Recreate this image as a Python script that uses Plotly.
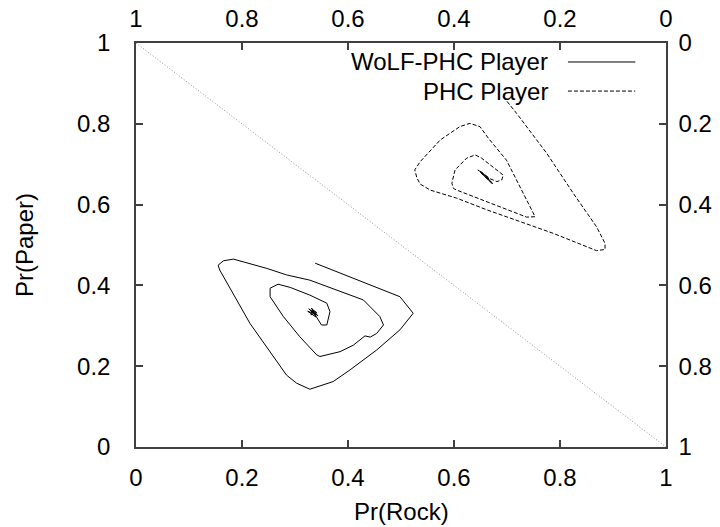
import plotly.graph_objects as go

# WoLF-PHC player trajectory (Pr(Rock), Pr(Paper))
wolf_x = [0.338, 0.498, 0.523, 0.498, 0.454, 0.404, 0.372, 0.341, 0.328, 0.303, 0.284,
          0.215, 0.158, 0.155, 0.165, 0.184, 0.247, 0.284, 0.328, 0.429, 0.460, 0.467,
          0.454, 0.442, 0.432, 0.410, 0.385, 0.347, 0.341, 0.309, 0.278, 0.253, 0.253,
          0.268, 0.291, 0.328, 0.360, 0.366, 0.360, 0.350, 0.338, 0.332,
          0.326, 0.340, 0.329, 0.343, 0.331, 0.337, 0.324, 0.339, 0.333, 0.341, 0.330, 0.335]
wolf_y = [0.455, 0.372, 0.331, 0.290, 0.240, 0.191, 0.162, 0.149, 0.143, 0.158, 0.178,
          0.306, 0.438, 0.450, 0.461, 0.465, 0.442, 0.426, 0.413, 0.364, 0.323, 0.302,
          0.281, 0.272, 0.275, 0.252, 0.236, 0.224, 0.228, 0.273, 0.323, 0.372, 0.393,
          0.403, 0.395, 0.376, 0.356, 0.335, 0.302, 0.302, 0.327, 0.335,
          0.342, 0.328, 0.338, 0.325, 0.344, 0.330, 0.336, 0.322, 0.340, 0.333, 0.327, 0.337]

# PHC player trajectory
phc_x = [0.693, 0.718, 0.756, 0.775, 0.825, 0.869, 0.885, 0.885, 0.869, 0.787, 0.662,
         0.605, 0.555, 0.536, 0.530, 0.526, 0.536, 0.574, 0.611, 0.630, 0.649, 0.665,
         0.699, 0.725, 0.750, 0.753, 0.737, 0.671, 0.605, 0.599, 0.596, 0.602, 0.624,
         0.640, 0.652, 0.693, 0.690, 0.681,
         0.668, 0.648, 0.660, 0.672, 0.645, 0.663, 0.674, 0.655, 0.666, 0.650, 0.670, 0.662]
phc_y = [0.867, 0.826, 0.760, 0.727, 0.628, 0.545, 0.504, 0.489, 0.486, 0.529, 0.587,
         0.616, 0.636, 0.651, 0.666, 0.686, 0.706, 0.760, 0.793, 0.801, 0.793, 0.764,
         0.710, 0.644, 0.578, 0.570, 0.569, 0.602, 0.636, 0.640, 0.653, 0.686, 0.715,
         0.723, 0.715, 0.673, 0.661, 0.657,
         0.664, 0.684, 0.672, 0.652, 0.686, 0.668, 0.650, 0.676, 0.660, 0.680, 0.655, 0.667]

# Simplex boundary Pr(Rock) + Pr(Paper) = 1
diag_x = [0, 1]
diag_y = [1, 0]

tick_vals = [0, 0.2, 0.4, 0.6, 0.8, 1]
tick_text = ["0", "0.2", "0.4", "0.6", "0.8", "1"]

legend_names = ["WoLF-PHC Player", "PHC Player"]
axis_titles = ["Pr(Rock)", "Pr(Paper)"]

FONT = "Liberation Sans, Arial, Helvetica, sans-serif"
FS = 24
AX = "#404040"

fig = go.Figure()
fig.add_trace(go.Scatter(x=diag_x, y=diag_y, mode="lines",
                         line=dict(color="#909090", width=1, dash="1px,2px"),
                         showlegend=False, hoverinfo="skip"))
fig.add_trace(go.Scatter(x=wolf_x, y=wolf_y, mode="lines", name=legend_names[0],
                         line=dict(color="black", width=1), showlegend=False))
fig.add_trace(go.Scatter(x=phc_x, y=phc_y, mode="lines", name=legend_names[1],
                         line=dict(color="black", width=1, dash="4px,2px"), showlegend=False))
# carrier trace for the secondary (top / right) axes
fig.add_trace(go.Scatter(x=diag_x, y=diag_y, xaxis="x2", yaxis="y2", mode="markers",
                         marker=dict(opacity=0), showlegend=False, hoverinfo="skip"))

axis_common = dict(showgrid=False, zeroline=False, showline=True, linecolor=AX, linewidth=1.5,
                   ticks="inside", ticklen=7, tickwidth=1.5, tickcolor=AX, automargin=False,
                   tickvals=tick_vals, ticktext=tick_text,
                   tickfont=dict(family=FONT, size=FS, color="black"))

fig.update_layout(
    width=720, height=527,
    margin=dict(l=136, r=54, t=43, b=80),
    plot_bgcolor="white", paper_bgcolor="white",
    font=dict(family=FONT, size=FS, color="black"),
    xaxis=dict(range=[0, 1], side="bottom", ticklabelstandoff=8, **axis_common),
    yaxis=dict(range=[0, 1], side="left", ticklabelstandoff=19, **axis_common),
    xaxis2=dict(range=[1, 0], side="top", overlaying="x", anchor="y", ticklabelstandoff=5,
                **axis_common),
    yaxis2=dict(range=[1, 0], side="right", overlaying="y", anchor="x", ticklabelstandoff=6,
                **axis_common),
)

# axis titles
fig.add_annotation(x=0.5, y=(447 - 512) / 404, xref="paper", yref="paper", text=axis_titles[0],
                   showarrow=False, xanchor="center", yanchor="middle",
                   font=dict(family=FONT, size=FS, color="black"))
fig.add_annotation(x=(24 - 136) / 530, y=0.5, xref="paper", yref="paper", text=axis_titles[1],
                   showarrow=False, xanchor="center", yanchor="middle", textangle=-90,
                   font=dict(family=FONT, size=FS, color="black"))

# key (gnuplot style: text right-aligned, sample line to the right)
rows = [(0.953, "solid"), (0.881, "4px,2px")]
for name, (yy, dash) in zip(legend_names, rows):
    fig.add_annotation(x=0.781, y=yy, xref="paper", yref="paper", text=name,
                       showarrow=False, xanchor="right", yanchor="middle",
                       font=dict(family=FONT, size=FS, color="black"))
    fig.add_shape(type="line", xref="paper", yref="paper", x0=0.815, x1=0.942, y0=yy, y1=yy,
                  line=dict(color="black", width=1, dash=dash))

# remove the default 8px page margin so the figure sits at the window's top-left corner
fig.write_html("out.html", config={"displayModeBar": False},
               post_script="document.body.style.margin='0';")
